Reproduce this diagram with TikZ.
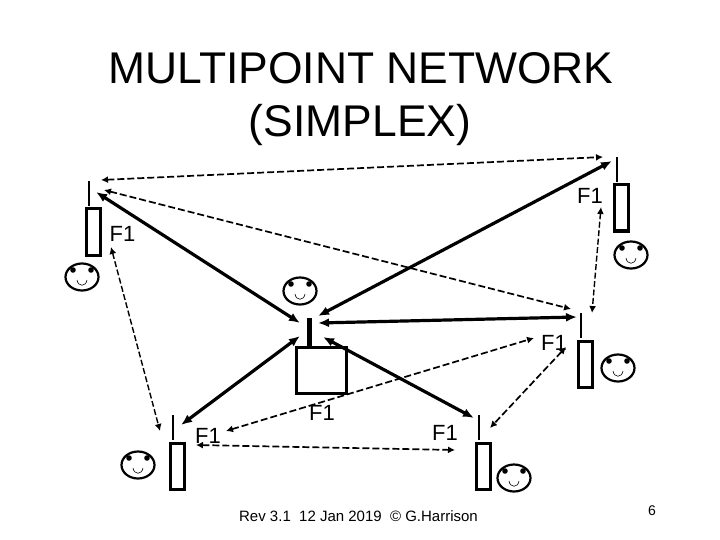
\documentclass[tikz,border=0pt]{standalone}
\usepackage{fontspec}
\setmainfont{Liberation Sans}
\usetikzlibrary{arrows.meta,shapes.geometric}
\tikzset{
  solidlink/.style={line width=3.2pt,{Latex[length=11pt,width=9pt]}-{Latex[length=11pt,width=9pt]}},
  dashlink/.style={line width=1.7pt,dash pattern=on 7pt off 3pt,{Latex[length=7pt,width=7pt]}-{Latex[length=7pt,width=7pt]}},
  thinlink/.style={line width=1.4pt,dash pattern=on 6pt off 2.5pt,{Latex[length=7pt,width=7pt]}-{Latex[length=7pt,width=7pt]}},
  mast/.style={line width=2.6pt},
  bigmast/.style={line width=5pt},
  radio/.style={draw,line width=3pt,minimum width=14pt,minimum height=46pt,inner sep=0pt,outer sep=0pt},
  hub/.style={draw,line width=3pt,minimum width=50pt,minimum height=46pt,inner sep=0pt,outer sep=0pt},
  head/.style={draw,ellipse,line width=2.2pt,minimum width=33pt,minimum height=27pt,inner sep=0pt,outer sep=0pt},
  flabel/.style={font=\fontsize{22}{24}\selectfont,inner sep=0pt},
}
\newcommand{\smiley}[2]{%
  \node[head] (#1) at (#2) {};
  \fill ([shift={(-9,-7)}]#1.center) circle (2.8);
  \fill ([shift={(9,-7)}]#1.center) circle (2.8);
  \draw[line width=.6pt] ([shift={(-5,3)}]#1.center) .. controls ([shift={(-4,10)}]#1.center) and ([shift={(4,10)}]#1.center) .. ([shift={(5,3)}]#1.center);
}
\begin{document}
\begin{tikzpicture}[x=1pt,y=-1pt]
\useasboundingbox (0,0) rectangle (720,540);
\node[font=\fontsize{44.4}{52}\selectfont,inner sep=0pt] (title1) at (361,68) {MULTIPOINT NETWORK};
\node[font=\fontsize{44.4}{52}\selectfont,inner sep=0pt] (title2) at (360,125) {(SIMPLEX)};

% radios and masts
\node[radio] (ra) at (93,232) {};
\coordinate (ma1) at (89,181); \coordinate (ma2) at (89,206);
\draw[mast] (ma1) -- (ma2);
\node[radio] (rb) at (621,208) {};
\coordinate (mb1) at (617,157); \coordinate (mb2) at (617,182);
\draw[mast] (mb1) -- (mb2);
\node[radio] (rc) at (585,364) {};
\coordinate (mc1) at (581,313); \coordinate (mc2) at (581,338);
\draw[mast] (mc1) -- (mc2);
\node[radio] (rd) at (177,466) {};
\coordinate (md1) at (173,415); \coordinate (md2) at (173,440);
\draw[mast] (md1) -- (md2);
\node[radio] (re) at (483,466) {};
\coordinate (me1) at (479,415); \coordinate (me2) at (479,440);
\draw[mast] (me1) -- (me2);
\node[hub] (hub) at (321,370) {};
\coordinate (mh1) at (309,318); \coordinate (mh2) at (309,346);
\draw[bigmast] (mh1) -- (mh2);

% faces
\smiley{fa}{82,277}
\smiley{fb}{631,255}
\smiley{fc}{618,368}
\smiley{fh}{300,291}
\smiley{fd}{138,465}
\smiley{fe}{514,478}

% labels
\node[flabel] (la) at (122.5,234) {F1};
\node[flabel] (lb) at (590,196) {F1};
\node[flabel] (lc) at (554,343) {F1};
\node[flabel] (lh) at (322,413) {F1};
\node[flabel] (ld) at (208,436) {F1};
\node[flabel] (le) at (445,433) {F1};

% solid links
\coordinate (sa1) at (300,323); \coordinate (sa2) at (96,192);
\coordinate (sb1) at (318,316); \coordinate (sb2) at (612,161);
\coordinate (sc1) at (318,323); \coordinate (sc2) at (577,317);
\coordinate (sd1) at (300,336); \coordinate (sd2) at (181,425);
\coordinate (se1) at (323,337); \coordinate (se2) at (474,418);
\draw[solidlink] (sa1) -- (sa2);
\draw[solidlink] (sb1) -- (sb2);
\draw[solidlink] (sc1) -- (sc2);
\draw[solidlink] (sd1) -- (sd2);
\draw[solidlink] (se1) -- (se2);

% dashed links
\coordinate (dab1) at (101,180); \coordinate (dab2) at (603,157);
\coordinate (dac1) at (104,190); \coordinate (dac2) at (571,309);
\coordinate (dad1) at (111,247); \coordinate (dad2) at (160,431);
\coordinate (dbc1) at (601,207); \coordinate (dbc2) at (592,313);
\coordinate (dce1) at (566,347); \coordinate (dce2) at (490,428);
\coordinate (ddc1) at (226,431); \coordinate (ddc2) at (534,338);
\coordinate (dde1) at (196,445); \coordinate (dde2) at (455,450);
\draw[dashlink] (dab1) -- (dab2);
\draw[dashlink] (dac1) -- (dac2);
\draw[thinlink] (dad1) -- (dad2);
\draw[thinlink] (dbc1) -- (dbc2);
\draw[dashlink] (dce1) -- (dce2);
\draw[dashlink] (ddc1) -- (ddc2);
\draw[dashlink] (dde1) -- (dde2);

% footer
\node[font=\fontsize{15}{17}\selectfont,inner sep=0pt] (foot) at (358.5,516) {Rev 3.1\ \ 12 Jan 2019\ \ © G.Harrison};
\node[font=\fontsize{14}{16}\selectfont,inner sep=0pt] (page) at (652,511) {6};
\end{tikzpicture}
\end{document}
